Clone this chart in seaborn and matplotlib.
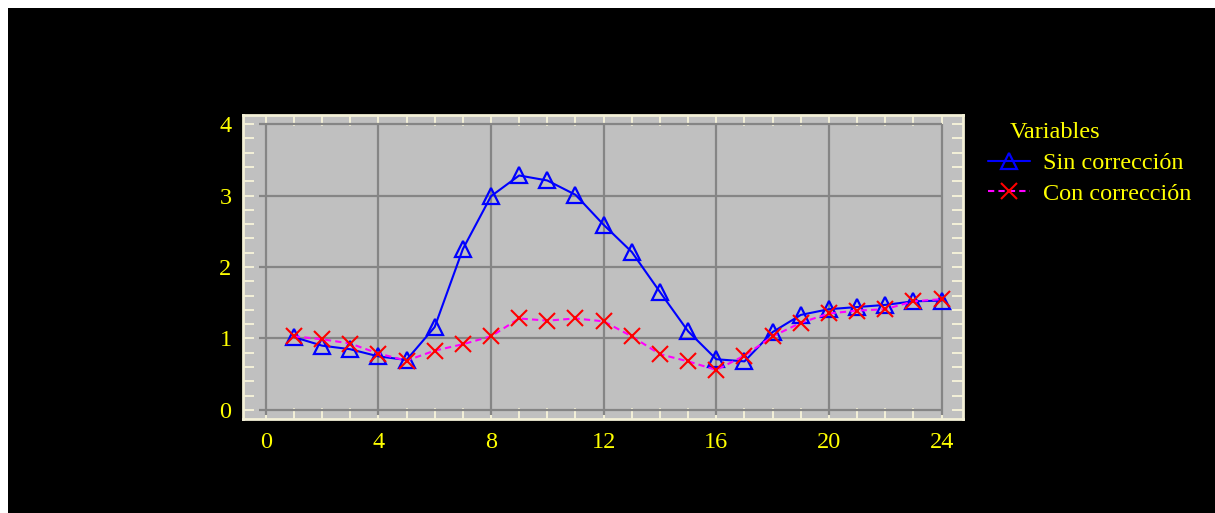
import numpy as np
import pandas as pd
import matplotlib
matplotlib.use("Agg")
import matplotlib.pyplot as plt
from matplotlib.ticker import MultipleLocator
from matplotlib.patches import Rectangle
from matplotlib.lines import Line2D
import seaborn as sns

# ---- data ----
hours = list(range(1, 25))
sin_correccion = [1.02, 0.90, 0.85, 0.75, 0.70, 1.16, 2.25, 2.99, 3.28, 3.21,
                  3.01, 2.59, 2.21, 1.65, 1.10, 0.71, 0.68, 1.09, 1.33, 1.41,
                  1.44, 1.47, 1.52, 1.53]
con_correccion = [1.03, 0.99, 0.93, 0.79, 0.69, 0.83, 0.92, 1.03, 1.28, 1.25,
                  1.28, 1.24, 1.03, 0.78, 0.68, 0.56, 0.76, 1.03, 1.22, 1.35,
                  1.39, 1.41, 1.52, 1.55]
series_names = ["Sin corrección", "Con corrección"]
legend_title = "Variables"
x_ticks = [0, 4, 8, 12, 16, 20, 24]
y_ticks = [0, 1, 2, 3, 4]

df_sin = pd.DataFrame({"x": hours, "y": sin_correccion})
df_con = pd.DataFrame({"x": hours, "y": con_correccion})

sns.set_theme(style="white")
plt.rcParams["font.family"] = ["Liberation Serif", "DejaVu Serif"]

W, H = 1215, 513
FS = 17.5
fig = plt.figure(figsize=(W / 100, H / 100), dpi=100, facecolor="black")

ax = fig.add_axes([243.3 / W, (H - 419) / H, 720 / W, 304 / H])
ax.set_facecolor("#c0c0c0")

yellow = "#ffff00"
cream = "#f4f1d8"
gridc = "#858585"

# grid lines over the data range
for xv in x_ticks:
    ax.plot([xv, xv], [-0.07, 4.0], color=gridc, lw=1.6, zorder=1, solid_capstyle="butt")
for yv in y_ticks:
    ax.plot([-0.25, 24.0], [yv, yv], color=gridc, lw=1.6, zorder=1, solid_capstyle="butt")

sns.lineplot(data=df_sin, x="x", y="y", ax=ax, color="#0000ff", lw=1.5,
             marker="^", markersize=11, markerfacecolor="none",
             markeredgecolor="#0000ff", markeredgewidth=1.6, zorder=3)
sns.lineplot(data=df_con, x="x", y="y", ax=ax, color="#ff00ff", lw=1.5,
             zorder=4)
ax.lines[-1].set_dashes((3, 2))
sns.lineplot(data=df_con, x="x", y="y", ax=ax, color="#ff00ff", lw=0,
             marker="x", markersize=12, markeredgecolor="#ff0000",
             markeredgewidth=1.5, zorder=5)

ax.set_xlim(-0.795, 24.77)
ax.set_ylim(-0.126, 4.126)
ax.set_xlabel("")
ax.set_ylabel("")
ax.set_xticks(x_ticks)
ax.set_yticks(y_ticks)
ax.xaxis.set_minor_locator(MultipleLocator(1))
ax.yaxis.set_minor_locator(MultipleLocator(0.2))
ax.tick_params(which="both", direction="in", length=8, width=1.4, color=cream,
               top=True, right=True, bottom=True, left=True)
ax.tick_params(axis="x", which="major", pad=9.5, labelsize=FS, labelcolor=yellow)
ax.tick_params(axis="y", which="major", pad=8.5, labelsize=FS, labelcolor=yellow)
for sp in ax.spines.values():
    sp.set_color(cream)
    sp.set_linewidth(2)
    sp.set_visible(True)

# legend
handles = [
    Line2D([], [], color="#0000ff", lw=1.5, marker="^", markersize=11,
           markerfacecolor="none", markeredgecolor="#0000ff", markeredgewidth=1.6),
    Line2D([], [], color="#ff00ff", lw=1.5, ls=(0, (3, 2)), marker="x",
           markersize=12, markeredgecolor="#ff0000", markeredgewidth=1.5),
]
leg = fig.legend(handles, series_names, loc="upper left",
                 bbox_to_anchor=(988 / W, 1 - 152 / H), frameon=False,
                 fontsize=FS, handlelength=1.73, handletextpad=0.53,
                 labelspacing=0.35, borderaxespad=0, borderpad=0)
for t in leg.get_texts():
    t.set_color(yellow)
fig.text(1010 / W, 1 - 132 / H, legend_title, color=yellow, fontsize=FS,
         ha="left", va="center")

# white margins at top and left
fig.patches.append(Rectangle((0, 1 - 8 / H), 1, 8 / H, transform=fig.transFigure,
                             facecolor="white", edgecolor="none", zorder=10))
fig.patches.append(Rectangle((0, 0), 8 / W, 1, transform=fig.transFigure,
                             facecolor="white", edgecolor="none", zorder=10))

fig.savefig("out.png", dpi=100, facecolor="black")
